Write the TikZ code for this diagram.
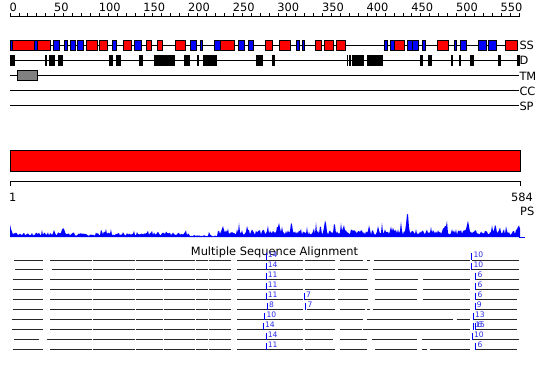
\documentclass[tikz,border=0pt]{standalone}
\usepackage{fontspec}
\setmainfont{DejaVu Sans}
\definecolor{msablue}{RGB}{45,45,235}
\newcommand\msarow[2]{\foreach \a/\b in {#2} \draw[msa] (\a,#1) -- (\b,#1);}
\newcommand\msatick[3]{\draw[mtick] (#1,#2) -- (#1,#2-6.7); \node[mnum] at (#1+1.6,#2-2.4) {#3};}
\begin{document}
\begin{tikzpicture}[x=1pt,y=-1pt,
  ssbox/.style={draw=black,line width=0.8pt},
  track/.style={line width=1pt,black},
  lbl/.style={font=\fontsize{11.4}{13}\selectfont,inner sep=0pt},
  msa/.style={line width=1pt,black!85},
  mtick/.style={line width=1pt,blue},
  mnum/.style={font=\fontsize{7.6}{8}\selectfont,text=msablue,inner sep=0pt,anchor=base west},
  declare function={
    env(\t)=(\t<190)?4.6:((\t<218)?1.6:7.0);
    tri(\t,\c,\h)=\h*max(0,1-abs(\t-\c)/2.5);
    prof(\t)=env(\t)*(0.3+0.7*rnd)+((\t>220)?9:4)*rnd^9
      +tri(\t,10,10)+tri(\t,63,5)+tri(\t,223,6)+tri(\t,247,4)+tri(\t,279,8)
      +tri(\t,325,12)+tri(\t,407,13)+tri(\t,446,7)+tri(\t,468,12)+tri(\t,519,8);
  }]
\useasboundingbox (0,0) rectangle (550,380);
\fill[white] (0,0) rectangle (550,380);
% top ruler
\draw[track] (10,16.5) -- (519,16.5);
\foreach \k in {0,...,57} \draw[line width=0.8pt] ({10+8.93*\k},16.5) -- ({10+8.93*\k},12.5);
\foreach \k in {0,50,...,550} \node[lbl,anchor=base west] (r\k) at ({9.3+0.893*\k},11) {\k};
% SS track
\draw[track] (10,45.5) -- (518,45.5);
\foreach \a/\b/\c in {10/12.3/blue,12.3/34.3/red,34.3/37.7/blue,37.7/50/red,53.3/59.3/blue,64.3/67.3/blue,
  70/75.3/blue,77/83.3/blue,86/97.3/red,99.3/107.3/red,112.7/116.3/blue,123.3/131.7/red,134.3/141/blue,
  146.7/151.5/red,157.3/162.3/red,175.5/185.5/red,190.5/196.7/blue,200.3/202.5/blue,214.3/220.8/blue,
  220.8/234.3/red,238.3/244.3/blue,248/253.3/blue,265.7/272.7/red,279.3/290/red,296.7/299.5/blue,
  302.3/304.7/blue,315.5/321.7/red,324.3/333.3/red,336.5/345.3/red,384.3/387.8/blue,390.8/394.5/blue,
  394.5/404.7/red,407.5/412/blue,412/418/blue,422.3/425.5/blue,437.5/448/red,454.3/456.8/blue,
  460.5/466/blue,478.5/486.8/blue,488.7/496.5/blue,505/517/red}
  \filldraw[ssbox,fill=\c] (\a,40.5) rectangle (\b,50.5);
% D track
\draw[track] (10,60) -- (520,60);
\foreach \a/\b in {10/15,45/46.7,49/55,58.3/62.7,109/113.3,116/120.7,139/142.7,154/175,184/190,
  197.3/199,203.3/216.7,256/262.7,271.5/275,346.7/348.3,349.3/350.7,352/364,367/382.7,420/422.7,
  428/432.3,451/453.3,459/461,470/474,498/501.3,517/520}
  \fill[black] (\a,54.5) rectangle (\b,65.5);
% TM, CC, SP
\draw[track] (10,75.5) -- (519,75.5);
\filldraw[fill=gray,draw=black,line width=0.8pt] (17.3,70.5) rectangle (37.7,80.5);
\draw[track] (10,90.5) -- (519,90.5);
\draw[track] (10,105.5) -- (519,105.5);
\node[lbl,anchor=west] (ss) at (519.3,45.5) {SS};
\node[lbl,anchor=west] (dd) at (519.3,60.5) {D};
\node[lbl,anchor=west] (tm) at (519.3,76) {TM};
\node[lbl,anchor=west] (cc) at (519.3,91) {CC};
\node[lbl,anchor=west] (sp) at (519.3,106) {SP};
% red domain bar
\filldraw[fill=red,draw=black,line width=1pt] (10,150) rectangle (520,171);
\draw[track] (10,186) -- (10,181) -- (520,181) -- (520,186);
\node[lbl,anchor=base west] (one) at (9,201.5) {1};
\node[lbl,anchor=base east] (len) at (533,201.5) {584};
\node[lbl,anchor=base west] (ps) at (520,215.5) {PS};
% profile
\pgfmathsetseed{11}
\fill[blue] (10,237) \foreach \x in {10,...,520} { -- (\x,{237-prof(\x)}) } -- (520,237) -- cycle;
\draw[blue,line width=0.8pt] (519,237.4) -- (525,237.4);
% MSA
\node[lbl,anchor=base] (msat) at (274.5,255) {Multiple Sequence Alignment};
\msarow{260}{14/42.7,50/230.5,237/303.3,305/335,340/363.3,366.7/370,374/470,471.7/519.3}
\msarow{269.95}{15/42.7,51.7/230.5,237/303.3,305/335,338.3/368.3,373.3/470,471.7/519.3}
\msarow{279.9}{12.7/42.7,50/230.5,237/303.3,305/335,340/366.7,375/418.3,423.3/470,475.7/519.3}
\msarow{289.85}{12.7/42.7,50/230.5,237/303.3,305/335,338/368.3,375/416.7,423.3/470,475.7/519.3}
\msarow{299.8}{12.7/42.7,50/230.5,237/303.3,305/335,338/368.3,375/416.7,423.3/470,475.7/516.7}
\msarow{309.75}{12.7/42.7,50/230.5,237/303.3,306.7/335,340/365,366.7/370,373.3/470,475/516.7}
\msarow{319.7}{11.7/42.7,50/230.5,237/303.3,305/363.3,366.7/453.3,456.7/470,473.3/516.7}
\msarow{329.65}{11.7/42.7,50/230.5,237/303.3,305/335,340/361.7,363.3/470,475/516.7}
\msarow{339.6}{14/39.3,46.7/230.5,237/303.3,305/333.3,340/366.7,371.7/416.7,421.7/470,472.3/519.3}
\msarow{349.55}{12.7/42.7,50/230.5,237/303.3,305/335,340/366.7,375/416.7,421.7/426.7,430/470,475.7/516.7}
\foreach \y in {260,269.95,...,350}
  \foreach \g in {92,135.5,163.5,195.5,208}
    \fill[white] (\g-0.5,\y-0.7) rectangle (\g+0.5,\y+0.7);
\msatick{266}{260}{14}\msatick{471.7}{260}{10}
\msatick{266}{269.95}{14}\msatick{471.7}{269.95}{10}
\msatick{266}{279.9}{11}\msatick{475.7}{279.9}{6}
\msatick{266}{289.85}{11}\msatick{475.7}{289.85}{6}
\msatick{266}{299.8}{11}\msatick{304.3}{299.8}{7}\msatick{475.7}{299.8}{6}
\msatick{267.3}{309.75}{8}\msatick{305.7}{309.75}{7}\msatick{475}{309.75}{9}
\msatick{264.7}{319.7}{10}\msatick{473.3}{319.7}{13}
\msatick{263.3}{329.65}{14}\msatick{473.5}{329.65}{15}\msatick{475.5}{329.65}{6}
\msatick{266}{339.6}{14}\msatick{472.3}{339.6}{10}
\msatick{266}{349.55}{11}\msatick{475.7}{349.55}{6}
\end{tikzpicture}
\end{document}
